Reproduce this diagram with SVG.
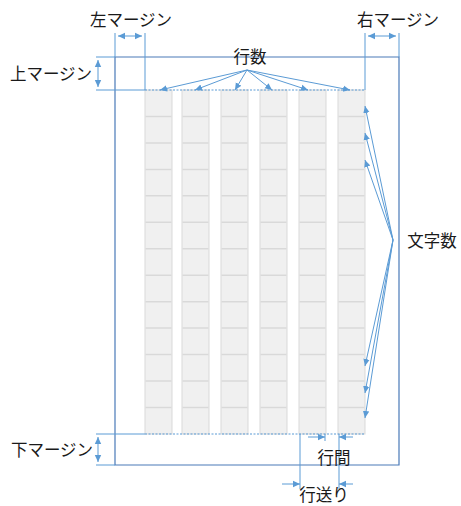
<svg xmlns="http://www.w3.org/2000/svg" xmlns:xlink="http://www.w3.org/1999/xlink" width="461" height="506" viewBox="0 0 461 506">
<style>
.t{font-family:"Noto Sans CJK JP","Noto Sans",sans-serif;font-size:16.5px;fill:#1a1a1a}
.ln{stroke:#5b9bd5;stroke-width:1;fill:none}
.ar{stroke:#5b9bd5;stroke-width:1;fill:none;marker-end:url(#ah)}
.dar{stroke:#5b9bd5;stroke-width:1;fill:none;marker-end:url(#ah);marker-start:url(#ahs)}
.pg{stroke:#4a7ab8;stroke-width:1.2;fill:none}
.dot{stroke:#5b9bd5;stroke-width:1;stroke-dasharray:2 1.5;fill:none}
.cell{fill:#f0f0f0;stroke:#d9d9d9;stroke-width:1}
.rl{stroke:#d9d9d9;stroke-width:1.5;fill:none}
</style>
<defs>
<marker id="ah" markerWidth="8" markerHeight="8" refX="7" refY="4" orient="auto" markerUnits="userSpaceOnUse">
<path d="M0,0.8 L7,4 L0,7.2 Z" fill="#5b9bd5"/>
</marker>
<marker id="ahs" markerWidth="8" markerHeight="8" refX="1" refY="4" orient="auto" markerUnits="userSpaceOnUse">
<path d="M8,0.8 L1,4 L8,7.2 Z" fill="#5b9bd5"/>
</marker>
<g id="col">
<rect class="cell" x="0" y="90" width="27" height="344"/>
<path class="rl" d="M0.5,116.5h26M0.5,143h26M0.5,169.4h26M0.5,195.8h26M0.5,222.3h26M0.5,248.8h26M0.5,275.2h26M0.5,301.7h26M0.5,328.1h26M0.5,354.6h26M0.5,381h26M0.5,407.5h26"/>
</g>
</defs>
<rect width="461" height="506" fill="#fff"/>
<g id="columns">
<use xlink:href="#col" x="145"/>
<use xlink:href="#col" x="182"/>
<use xlink:href="#col" x="221"/>
<use xlink:href="#col" x="260"/>
<use xlink:href="#col" x="299"/>
<use xlink:href="#col" x="338"/>
</g>
<g id="page">
<path class="pg" d="M115,57 H399 V465 H115 Z"/>
</g>
<g id="connectors">
<path class="ln" d="M115,33V57M399,33V57M145,33V90M365,33V90M96,57H115M96,90H145M96,434H145M96,465H115"/>
<path class="dot" d="M145,90H365M145,434H365"/>
<path class="dar" d="M118,36H142"/>
<path class="dar" d="M368,36H396"/>
<path class="dar" d="M98,60V87"/>
<path class="dar" d="M98,437V462"/>
<path class="ar" d="M247,70L160,90"/>
<path class="ar" d="M247,70L195,90"/>
<path class="ar" d="M247,70L235,90"/>
<path class="ar" d="M247,70L272,90"/>
<path class="ar" d="M247,70L308,90"/>
<path class="ar" d="M247,70L350,90"/>
<path class="ar" d="M393,240L365,106"/>
<path class="ar" d="M393,240L365,133"/>
<path class="ar" d="M393,240L365,160"/>
<path class="ar" d="M393,240L365,366"/>
<path class="ar" d="M393,240L365,393"/>
<path class="ar" d="M393,240L365,418"/>
<path class="ln" d="M325,434V441M339,434V489M300,434V489"/>
<path class="ar" d="M308,437H325"/>
<path class="ar" d="M353,437H339"/>
<path class="ar" d="M282,484H300"/>
<path class="ar" d="M353,484H339"/>
</g>
<g id="labels">
<text class="t" x="131" y="26" text-anchor="middle">左マージン</text>
<text class="t" x="398" y="26" text-anchor="middle">右マージン</text>
<text class="t" x="51" y="80" text-anchor="middle">上マージン</text>
<text class="t" x="52" y="456" text-anchor="middle">下マージン</text>
<text class="t" x="250" y="63" text-anchor="middle">行数</text>
<text class="t" x="432" y="247" text-anchor="middle">文字数</text>
<text class="t" x="334" y="464" text-anchor="middle">行間</text>
<text class="t" x="324" y="501" text-anchor="middle">行送り</text>
</g>
</svg>
